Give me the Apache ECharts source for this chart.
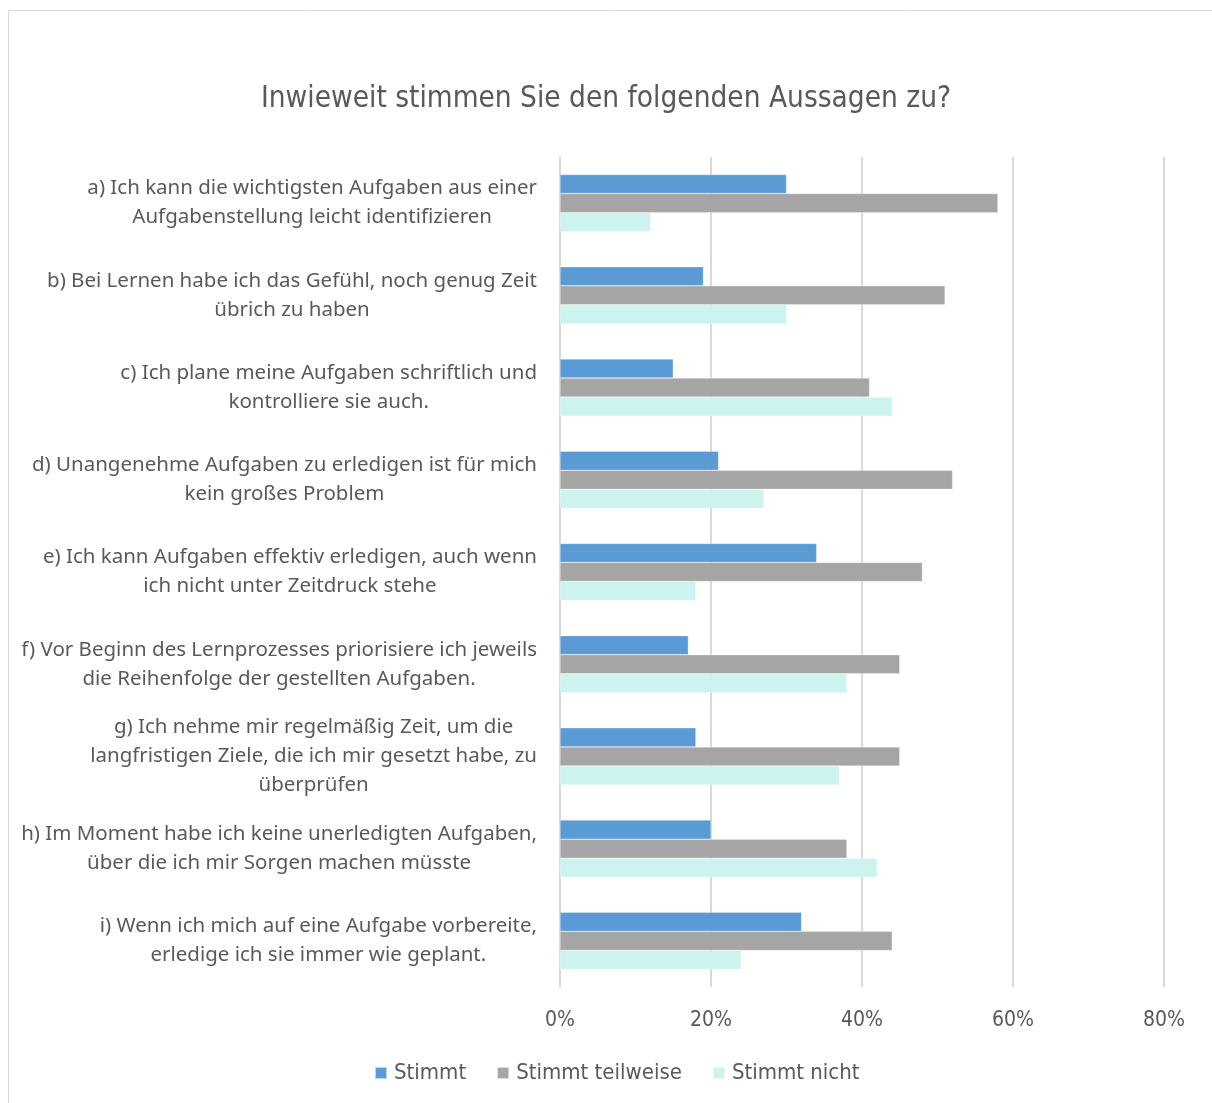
<!DOCTYPE html>
<html>
<head>
<meta charset="utf-8">
<script src="https://cdn.jsdelivr.net/npm/echarts@6/dist/echarts.min.js"></script>
<style>
  html, body { margin: 0; padding: 0; background: #fff; }
  #chart { width: 1212px; height: 1103px; }
</style>
</head>
<body>
<div id="chart"></div>
<script>
const categories = [
  "a) Ich kann die wichtigsten Aufgaben aus einer\nAufgabenstellung leicht identifizieren",
  "b) Bei Lernen habe ich das Gefühl, noch genug Zeit\nübrich zu haben",
  "c) Ich plane meine Aufgaben schriftlich und\nkontrolliere sie auch.",
  "d) Unangenehme Aufgaben zu erledigen ist für mich\nkein großes Problem",
  "e) Ich kann Aufgaben effektiv erledigen, auch wenn\nich nicht unter Zeitdruck stehe",
  "f) Vor Beginn des Lernprozesses priorisiere ich jeweils\ndie Reihenfolge der gestellten Aufgaben.",
  "g) Ich nehme mir regelmäßig Zeit, um die\nlangfristigen Ziele, die ich mir gesetzt habe, zu\nüberprüfen",
  "h) Im Moment habe ich keine unerledigten Aufgaben,\nüber die ich mir Sorgen machen müsste",
  "i) Wenn ich mich auf eine Aufgabe vorbereite,\nerledige ich sie immer wie geplant."
];
const stimmt = [30, 19, 15, 21, 34, 17, 18, 20, 32];
const teilweise = [58, 51, 41, 52, 48, 45, 45, 38, 44];
const nicht = [12, 30, 44, 27, 18, 38, 37, 42, 24];
const seriesNames = ["Stimmt", "Stimmt teilweise", "Stimmt nicht"];
const colors = ["#5b9bd5", "#a5a5a5", "#ccf3ee"];

const chart = echarts.init(document.getElementById("chart"));
const textColor = "#595959";
const font = "'Noto Sans', sans-serif";
const narrow = "'Liberation Sans Narrow', 'DejaVu Sans Condensed', sans-serif";

chart.setOption({
  animation: false,
  color: colors,
  graphic: [{
    type: "rect",
    shape: { x: 8.5, y: 10.5, width: 1210, height: 1100 },
    style: { fill: "none", stroke: "#d9d9d9", lineWidth: 1 },
    silent: true
  }],
  title: {
    text: "Inwieweit stimmen Sie den folgenden Aussagen zu?",
    left: "center",
    top: 79,
    textStyle: { color: textColor, fontSize: 29.5, fontWeight: "normal", fontFamily: narrow }
  },
  legend: {
    data: seriesNames,
    bottom: 14,
    left: 369,
    itemWidth: 12,
    itemHeight: 12,
    itemGap: 30,
    icon: "rect",
    textStyle: { color: textColor, fontSize: 22, fontFamily: narrow, padding: [0, 0, 0, 2] }
  },
  grid: { left: 560, right: 48, top: 157, bottom: 116, containLabel: false },
  xAxis: {
    type: "value",
    min: 0,
    max: 80,
    interval: 20,
    axisLine: { show: false },
    axisTick: { show: false },
    axisLabel: { formatter: "{value}%", color: textColor, fontSize: 21, fontFamily: narrow, margin: 23 },
    splitLine: { lineStyle: { color: "#d9d9d9", width: 2 } }
  },
  yAxis: {
    type: "category",
    inverse: true,
    data: categories,
    axisLine: { lineStyle: { color: "#d9d9d9", width: 2 } },
    axisTick: { show: false },
    axisLabel: {
      color: textColor,
      fontSize: 20.5,
      fontFamily: font,
      lineHeight: 29,
      align: "right",
      margin: 23,
      interval: 0,
      // center each line within the label block
      formatter: function (v) {
        return v.split("\n").map(function (l) { return "{c|" + l + "}"; }).join("\n");
      },
      rich: {
        c: { align: "center", color: textColor, fontSize: 20.5, fontFamily: font, lineHeight: 29 }
      }
    }
  },
  series: [stimmt, teilweise, nicht].map(function (d, i) {
    return {
      name: seriesNames[i],
      type: "bar",
      data: d,
      barGap: "0%",
      barCategoryGap: "38%",
      itemStyle: { borderColor: "rgba(255,255,255,0.6)", borderWidth: 0.5 }
    };
  })
});
</script>
</body>
</html>
